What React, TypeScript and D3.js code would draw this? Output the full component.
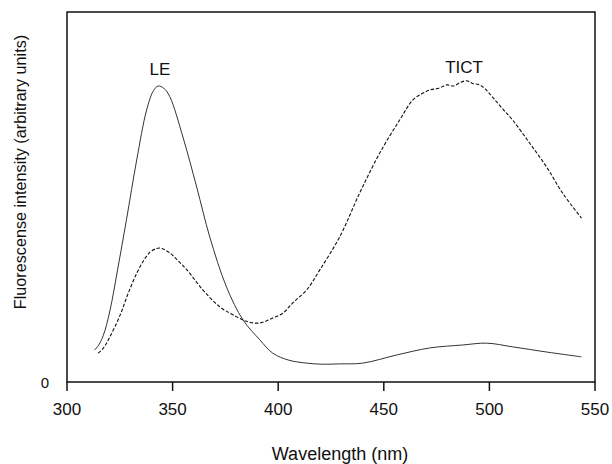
import React from "react";
import * as d3 from "d3";

const xTicks = [300, 350, 400, 450, 500, 550];
const yTickLabels = ["0"];

// LE emission (solid)
const leWavelength = [313, 315, 317.2, 320.3, 324, 328.2, 333, 337.7, 341, 343.2, 346, 348.7, 354.9, 361.4, 367.6, 375.5, 383.3, 391.3, 397.4, 405, 413.5, 421, 429.1, 440, 456.1, 471.7, 487.3, 498.7, 511, 527.1, 543.6];
const leIntensity = [8.6, 10.0, 12.6, 19.2, 30.5, 44.0, 60, 73.5, 78.8, 80, 79.3, 77.1, 66.2, 52.7, 39.2, 25.7, 16.8, 11.4, 7.8, 5.9, 5.1, 4.8, 4.9, 5.1, 7.3, 9.2, 10, 10.5, 9.5, 8.1, 6.8];

// TICT emission (dashed)
const tictWavelength = [314.7, 317, 320.3, 325.1, 329, 333.1, 336.5, 339.3, 342, 344, 346, 348.7, 352.5, 356.8, 364.3, 372.4, 380.4, 385, 389.9, 393.5, 397.4, 402.2, 406.9, 413.5, 419.7, 429.1, 438.6, 448.1, 457.5, 463.7, 468, 471.7, 476, 479.8, 483, 486, 489.2, 492, 495.4, 498, 501.5, 506, 511, 519, 527.1, 534.6, 543.6];
const tictIntensity = [7.8, 9.0, 12.2, 18.0, 24.0, 29.5, 33, 35.1, 36.0, 36.2, 35.8, 34.9, 32.8, 30.3, 24.9, 20.3, 17.6, 16.4, 15.9, 16.3, 17.3, 18.6, 21.4, 24.9, 30.3, 39.2, 51.1, 61.9, 70.8, 76.2, 77.9, 78.9, 79.4, 80.3, 80.0, 80.9, 81.4, 80.7, 80.3, 79.2, 77.0, 74.0, 70.8, 64.6, 58.1, 51.1, 44.3];

const peakLabels = ["LE", "TICT"];
const peakLabelX = [344, 488];
const peakLabelY = [83, 83.5];

const W = 612;
const H = 464;
const left = 67;
const right = 595;
const top = 12;
const bottom = 382;

export default function App() {
  const x = d3.scaleLinear().domain([300, 550]).range([left, right]);
  const y = d3.scaleLinear().domain([0, 100]).range([bottom, top]);

  const line = d3
    .line<[number, number]>()
    .x((d) => x(d[0]))
    .y((d) => y(d[1]))
    .curve(d3.curveCatmullRom.alpha(0.5));

  const lePts: [number, number][] = leWavelength.map((w, i) => [w, leIntensity[i]]);
  const tictPts: [number, number][] = tictWavelength.map((w, i) => [w, tictIntensity[i]]);

  const font = "'Liberation Sans', Arial, Helvetica, sans-serif";

  return (
    <svg
      width={W}
      height={H}
      style={{ position: "absolute", left: 0, top: 0, background: "#fff" }}
      fontFamily={font}
    >
      <rect x={0} y={0} width={W} height={H} fill="#fff" />
      {/* frame */}
      <rect
        x={left}
        y={top}
        width={right - left}
        height={bottom - top}
        fill="none"
        stroke="#111"
        strokeWidth={1.5}
      />
      {/* x ticks */}
      {xTicks.map((t) => (
        <g key={t}>
          <line x1={x(t)} x2={x(t)} y1={bottom} y2={bottom + 9} stroke="#111" strokeWidth={1.5} />
          <text x={x(t)} y={bottom + 33} textAnchor="middle" fontSize={17} fill="#111">
            {t}
          </text>
        </g>
      ))}
      {/* y tick label */}
      <text x={49} y={y(0) + 6} textAnchor="end" fontSize={15} fill="#111">
        {yTickLabels[0]}
      </text>
      {/* axis titles */}
      <text x={340} y={460} textAnchor="middle" fontSize={18} fill="#111">
        Wavelength (nm)
      </text>
      <text
        transform={`translate(26,${172}) rotate(-90)`}
        textAnchor="middle"
        fontSize={16.2}
        fill="#111"
      >
        Fluorescense intensity (arbitrary units)
      </text>
      {/* curves */}
      <path d={line(lePts) || ""} fill="none" stroke="#333" strokeWidth={1} />
      <path
        d={line(tictPts) || ""}
        fill="none"
        stroke="#111"
        strokeWidth={1.1}
        strokeDasharray="3.5,1.8"
      />
      {/* peak labels */}
      {peakLabels.map((l, i) => (
        <text
          key={l}
          x={x(peakLabelX[i])}
          y={y(peakLabelY[i])}
          textAnchor="middle"
          fontSize={17}
          fill="#111"
        >
          {l}
        </text>
      ))}
    </svg>
  );
}
